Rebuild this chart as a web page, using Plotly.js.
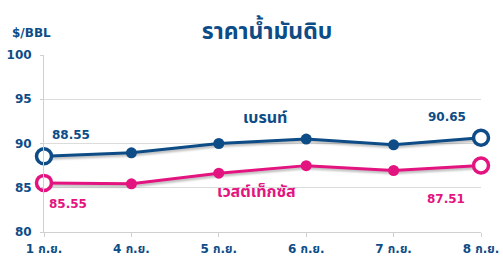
<!DOCTYPE html>
<html>
<head>
<meta charset="utf-8">
<script src="https://cdn.plot.ly/plotly-3.0.1.min.js"></script>
<style>
  html, body { margin: 0; padding: 0; background: #fff; }
  #chart { width: 503px; height: 265px; }
  /* soft drop shadow under the lines */
  .scatterlayer .trace .js-line { filter: drop-shadow(1px 2px 1px rgba(0,0,0,0.28)); }
</style>
</head>
<body>
<div id="chart"></div>
<script>
// Daily crude oil prices, US$ per barrel
const days = ['1 ก.ย.', '4 ก.ย.', '5 ก.ย.', '6 ก.ย.', '7 ก.ย.', '8 ก.ย.'];
const brent = [88.55, 88.95, 90.0, 90.5, 89.85, 90.65];
const wti = [85.55, 85.45, 86.65, 87.5, 86.95, 87.51];
const brentName = 'เบรนท์';
const wtiName = 'เวสต์เท็กซัส';

const BLUE = '#0d4c86';
const PINK = '#e3147f';
const FONT = '"DejaVu Sans", "Noto Sans Thai", "Noto Sans", sans-serif';

// first and last points are drawn as open rings, the rest as solid dots
function markerStyle(n, color) {
  const sizes = [], fills = [], widths = [];
  for (let i = 0; i < n; i++) {
    const end = (i === 0 || i === n - 1);
    sizes.push(end ? 15 : 11);
    fills.push(end ? '#ffffff' : color);
    widths.push(end ? 3.5 : 0);
  }
  return { size: sizes, color: fills, opacity: 1, line: { color: color, width: widths } };
}

const traces = [
  {
    x: days, y: brent, name: brentName, type: 'scatter', mode: 'lines+markers',
    line: { color: BLUE, width: 3 }, marker: markerStyle(brent.length, BLUE),
    cliponaxis: false, hoverinfo: 'skip'
  },
  {
    x: days, y: wti, name: wtiName, type: 'scatter', mode: 'lines+markers',
    line: { color: PINK, width: 3 }, marker: markerStyle(wti.length, PINK),
    cliponaxis: false, hoverinfo: 'skip'
  }
];

const last = days.length - 1;
const valueLabel = (x, y, color, xs, ys) => ({
  x: x, y: y, xref: 'x', yref: 'y', text: y.toFixed(2), showarrow: false,
  xshift: xs, yshift: ys, font: { family: FONT, size: 12, color: color, weight: 'bold' }
});

const annotations = [
  valueLabel(days[0], brent[0], BLUE, 27, 21),
  valueLabel(days[last], brent[last], BLUE, -34, 21),
  valueLabel(days[0], wti[0], PINK, 24, -21),
  valueLabel(days[last], wti[last], PINK, -35, -33),
  {
    x: 0.505, y: 0.645, xref: 'paper', yref: 'paper', text: brentName, showarrow: false,
    font: { family: FONT, size: 16, color: BLUE, weight: 'bold' }
  },
  {
    x: 0.487, y: 0.165, xref: 'paper', yref: 'paper', text: wtiName, showarrow: false,
    font: { family: FONT, size: 16, color: PINK, weight: 'bold' }
  },
  {
    x: -0.078, y: 1.124, xref: 'paper', yref: 'paper', xanchor: 'left', yanchor: 'middle',
    text: '$/BBL', showarrow: false,
    font: { family: FONT, size: 12, color: BLUE, weight: 'bold' }
  }
];

const layout = {
  width: 503, height: 265,
  margin: { l: 44, r: 22, t: 55, b: 33 },
  paper_bgcolor: '#ffffff', plot_bgcolor: '#ffffff',
  showlegend: false,
  font: { family: FONT, color: BLUE },
  title: {
    text: 'ราคาน้ำมันดิบ', x: 0.531, xref: 'container', xanchor: 'center',
    y: 0.885, yref: 'container', yanchor: 'middle',
    font: { family: FONT, size: 23, color: BLUE, weight: 'bold' }
  },
  xaxis: {
    type: 'category', range: [0, last],
    showgrid: false, zeroline: false,
    showline: true, linecolor: '#d0d0d0', linewidth: 1,
    ticks: 'outside', ticklen: 4, tickcolor: '#d0d0d0', ticklabelstandoff: 2,
    tickfont: { family: FONT, size: 12, color: BLUE, weight: 'bold' }
  },
  yaxis: {
    range: [80, 100], dtick: 5, tick0: 80,
    showgrid: true, gridcolor: '#dcdcdc', gridwidth: 1, zeroline: false,
    showline: true, linecolor: '#d0d0d0', linewidth: 1,
    ticks: 'outside', ticklen: 3, tickcolor: '#d0d0d0', ticklabelstandoff: 6,
    tickfont: { family: FONT, size: 12, color: BLUE, weight: 'bold' }
  },
  annotations: annotations
};

Plotly.newPlot('chart', traces, layout, { staticPlot: true, displayModeBar: false });
</script>
</body>
</html>
